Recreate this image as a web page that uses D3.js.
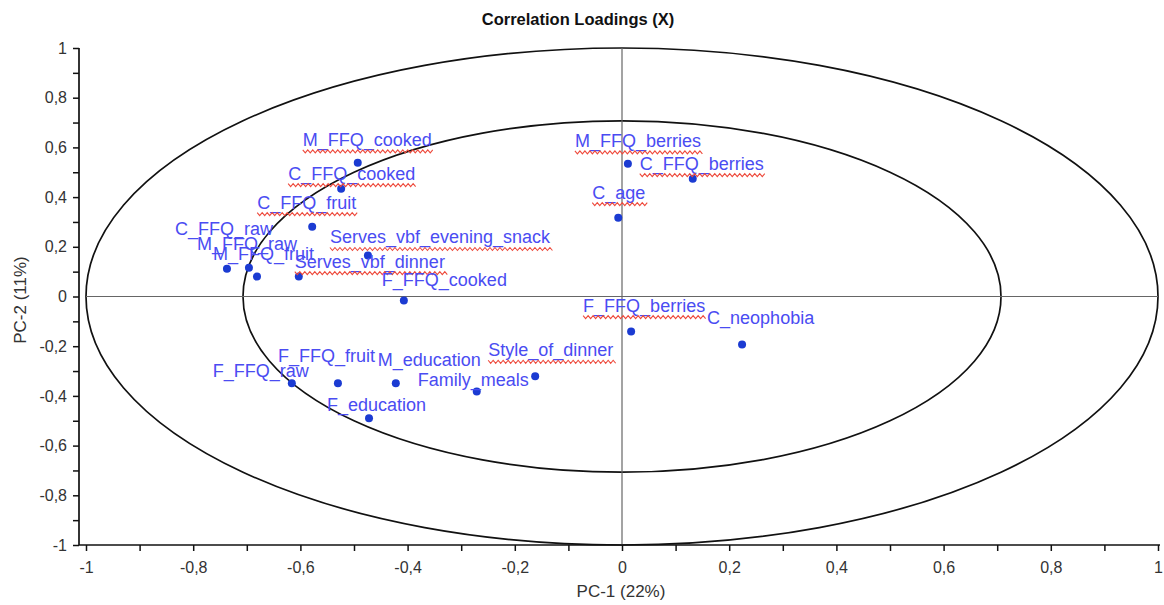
<!DOCTYPE html>
<html><head><meta charset="utf-8">
<script src="https://cdn.jsdelivr.net/npm/d3@7"></script>
<style>body{margin:0;background:#fff}svg{display:block}text{font-family:"Liberation Sans",Arial,sans-serif}</style>
</head><body><svg id="c" width="1164" height="605"></svg>
<script>
const names = ["M_FFQ_cooked","C_FFQ_cooked","C_FFQ_fruit","Serves_vbf_evening_snack","C_FFQ_raw","M_FFQ_raw","M_FFQ_fruit","Serves_vbf_dinner","F_FFQ_cooked","M_FFQ_berries","C_FFQ_berries","C_age","F_FFQ_berries","C_neophobia","Style_of_dinner","Family_meals","M_education","F_FFQ_fruit","F_FFQ_raw","F_education"];
const pc1 = [-0.493,-0.524,-0.578,-0.474,-0.737,-0.696,-0.681,-0.603,-0.407,0.011,0.132,-0.007,0.017,0.224,-0.162,-0.271,-0.422,-0.530,-0.616,-0.472];
const pc2 = [0.538,0.434,0.281,0.165,0.112,0.116,0.080,0.080,-0.016,0.534,0.474,0.317,-0.141,-0.193,-0.321,-0.382,-0.349,-0.349,-0.349,-0.490];
const spellFlag = [1,1,1,1,0,0,0,1,0,1,1,1,1,0,1,0,0,0,0,0];
const tickValues = [-1,-0.8,-0.6,-0.4,-0.2,0,0.2,0.4,0.6,0.8,1];
const minorTicks = [-0.9,-0.7,-0.5,-0.3,-0.1,0.1,0.3,0.5,0.7,0.9];
const ellipseRadii = [1, Math.SQRT1_2];
const titleText = "Correlation Loadings (X)";
const xTitle = "PC-1 (22%)", yTitle = "PC-2 (11%)";

// label placement offsets (pixels, relative to point)
const labelOffsets = {
 "M_FFQ_cooked":[-55,-17],"C_FFQ_cooked":[-53,-9],"C_FFQ_fruit":[-55,-18],"Serves_vbf_evening_snack":[-38,-12],
 "C_FFQ_raw":[-52,-34],"M_FFQ_raw":[-52,-18],"M_FFQ_fruit":[-44,-17],"Serves_vbf_dinner":[-4,-9],"F_FFQ_cooked":[-22,-14],
 "M_FFQ_berries":[-53,-17],"C_FFQ_berries":[-53,-9],"C_age":[-26,-19],"F_FFQ_berries":[-48,-20],"C_neophobia":[-35,-20],
 "Style_of_dinner":[-47,-20],"Family_meals":[-59,-5],"M_education":[-18,-17],"F_FFQ_fruit":[-60,-21],"F_FFQ_raw":[-79,-6],"F_education":[-42,-7]
};

const svg = d3.select("#c");
const x = d3.scaleLinear().domain([-1,1]).range([86,1158]);
const y = d3.scaleLinear().domain([-1,1]).range([545,48]);
const fmt = d => (Math.abs(d) < 1e-9 ? "0" : String(+d.toFixed(1)).replace(".", ","));

// title
svg.append("text").attr("x",578).attr("y",25).attr("text-anchor","middle")
  .attr("font-size",16.5).attr("font-weight","bold").attr("fill","#111").text(titleText);

// ellipses
ellipseRadii.forEach(r => {
  svg.append("ellipse").attr("cx",x(0)).attr("cy",y(0))
    .attr("rx",x(r)-x(0)).attr("ry",y(0)-y(r))
    .attr("fill","none").attr("stroke","#111").attr("stroke-width",1.7);
});
// crosshair
svg.append("line").attr("x1",x(-1)).attr("x2",x(1)).attr("y1",y(0)).attr("y2",y(0)).attr("stroke","#666").attr("stroke-width",1.2);
svg.append("line").attr("x1",x(0)).attr("x2",x(0)).attr("y1",y(-1)).attr("y2",y(1)).attr("stroke","#666").attr("stroke-width",1.2);

// axes
const axY = 545, axX = 79;
const xAxis = d3.axisBottom(x).tickValues(tickValues).tickFormat(fmt).tickSize(6).tickSizeOuter(0);
const gx = svg.append("g").attr("transform",`translate(0,${axY})`).call(xAxis);
gx.select(".domain").attr("d",`M${axX},0H1160`).attr("stroke","#111").attr("stroke-width",1.7);
gx.selectAll(".tick line").attr("stroke","#111").attr("stroke-width",1.5);
gx.selectAll(".tick text").attr("font-size",16).attr("fill","#333").attr("font-family","Liberation Sans, Arial, sans-serif").attr("y",28).attr("dy",0);
const gxm = svg.append("g").attr("transform",`translate(0,${axY})`).call(d3.axisBottom(x).tickValues(minorTicks).tickFormat("").tickSize(6).tickSizeOuter(0));
gxm.select(".domain").remove(); gxm.selectAll(".tick line").attr("stroke","#111").attr("stroke-width",1.5);

const yAxis = d3.axisLeft(y).tickValues(tickValues).tickFormat(fmt).tickSize(6).tickSizeOuter(0);
const gy = svg.append("g").attr("transform",`translate(${axX},0)`).call(yAxis);
gy.select(".domain").attr("d",`M0,${y(1)}V${axY}`).attr("stroke","#111").attr("stroke-width",1.7);
gy.selectAll(".tick line").attr("stroke","#111").attr("stroke-width",1.5);
gy.selectAll(".tick text").attr("font-size",16).attr("fill","#333").attr("font-family","Liberation Sans, Arial, sans-serif").attr("x",-12);
const gym = svg.append("g").attr("transform",`translate(${axX},0)`).call(d3.axisLeft(y).tickValues(minorTicks).tickFormat("").tickSize(6).tickSizeOuter(0));
gym.select(".domain").remove(); gym.selectAll(".tick line").attr("stroke","#111").attr("stroke-width",1.5);

// axis titles
svg.append("text").attr("x",621).attr("y",597).attr("text-anchor","middle").attr("font-size",17).attr("fill","#333").text(xTitle);
svg.append("text").attr("transform","translate(26,300) rotate(-90)").attr("text-anchor","middle").attr("font-size",17).attr("fill","#333").text(yTitle);

// data
const data = names.map((n,i)=>({name:n, x:pc1[i], y:pc2[i], spell:spellFlag[i]}));
svg.append("g").selectAll("circle").data(data).join("circle")
  .attr("cx",d=>x(d.x)).attr("cy",d=>y(d.y)).attr("r",4).attr("fill","#1b3bd2");

const lg = svg.append("g");
data.forEach(d => {
  const off = labelOffsets[d.name];
  const lx = x(d.x)+off[0], ly = y(d.y)+off[1];
  const t = lg.append("text").attr("x",lx).attr("y",ly).attr("font-size",18).attr("fill","#4a4cf2").text(d.name);
  if (d.spell) {
    const w = t.node().getComputedTextLength();
    let p = `M${lx},${ly+4}`;
    for (let s=0, k=0; s < w; s += 2.5, k++) p += `L${lx+s+2.5},${ly+4+(k%2===0?3:0)}`;
    lg.append("path").attr("d",p).attr("fill","none").attr("stroke","#ee4a3c").attr("stroke-width",1.1);
  }
});
</script></body></html>
